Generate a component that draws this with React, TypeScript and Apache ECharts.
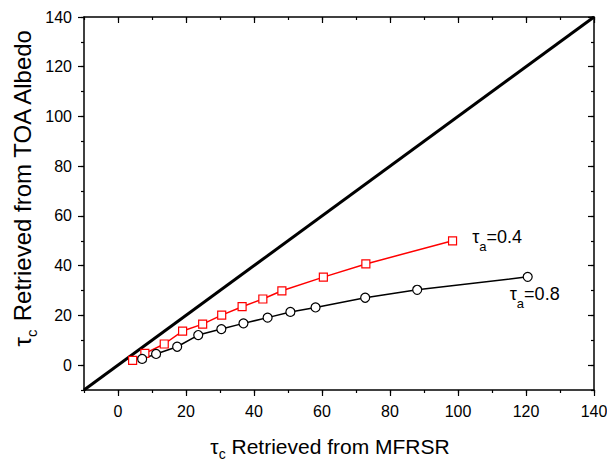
import React, { useEffect, useRef } from "react";
import * as echarts from "echarts";

// ---- data ----
const redX = [4.3, 7.9, 13.6, 19.0, 24.9, 30.5, 36.5, 42.6, 48.2, 60.4, 72.9, 98.4];
const redY = [1.9, 4.7, 8.5, 13.7, 16.5, 20.1, 23.5, 26.6, 29.9, 35.4, 40.7, 50.0];
const blackX = [7.1, 11.2, 17.4, 23.6, 30.4, 36.9, 44.0, 50.7, 58.1, 72.7, 88.0, 120.5];
const blackY = [2.5, 4.5, 7.4, 12.1, 14.5, 16.8, 19.1, 21.4, 23.2, 27.1, 30.3, 35.5];
const diagX = [-10, 140];
const diagY = [-10, 140];
const redTau = "0.4";
const blackTau = "0.8";
const xTitle = " Retrieved from MFRSR";
const yTitle = " Retrieved from TOA Albedo";

const FONT = "'Liberation Sans', Arial, Helvetica, sans-serif";

const xTitleRich = {
  t: { fontSize: 21, fontFamily: FONT, color: "#000", lineHeight: 30 },
  s: { fontSize: 14, fontFamily: FONT, color: "#000", lineHeight: 13, verticalAlign: "bottom" },
};
const yTitleRich = {
  t: { fontSize: 24, fontFamily: FONT, color: "#000", lineHeight: 34 },
  s: { fontSize: 15, fontFamily: FONT, color: "#000", lineHeight: 13, verticalAlign: "bottom" },
};
const labelRich = {
  t: { fontSize: 18, fontFamily: FONT, color: "#000", lineHeight: 32 },
  s: { fontSize: 13, fontFamily: FONT, color: "#000", lineHeight: 13, verticalAlign: "bottom" },
};

const pair = (xs: number[], ys: number[]) => xs.map((x, i) => [x, ys[i]]);

export default function App() {
  const ref = useRef<HTMLDivElement>(null);
  useEffect(() => {
    if (!ref.current) return;
    const chart = echarts.init(ref.current, undefined, { renderer: "svg" });

    const redData: any[] = pair(redX, redY);
    redData[redData.length - 1] = {
      value: redData[redData.length - 1],
      label: {
        show: true,
        position: "right",
        distance: 15,
        offset: [0, -4],
        formatter: `{t|τ}{s|a}{t|=${redTau}}`,
        rich: labelRich,
      },
    };
    const blackData: any[] = pair(blackX, blackY);
    blackData[blackData.length - 1] = {
      value: blackData[blackData.length - 1],
      label: {
        show: true,
        position: "inside",
        offset: [7, 17],
        formatter: `{t|τ}{s|a}{t|=${blackTau}}`,
        rich: labelRich,
      },
    };

    const minorX = {
      type: "value",
      min: -10,
      max: 140,
      interval: 10,
      splitLine: { show: false },
      axisLabel: { show: false },
    } as any;
    const majorScale = {
      type: "value",
      min: 0,
      max: 140,
      interval: 20,
      splitLine: { show: false },
      axisLine: { show: false, onZero: false },
    } as any;
    const line = { show: true, onZero: false, lineStyle: { color: "#000", width: 1.5 } };

    chart.setOption({
      animation: false,
      backgroundColor: "#fff",
      grid: [
        { left: 84, right: 13, top: 17, bottom: 72, containLabel: false, outerBoundsMode: "none" },
        { left: 118, right: 13, top: 17, bottom: 96.9, containLabel: false, outerBoundsMode: "none" },
      ],
      xAxis: [
        {
          ...minorX,
          gridIndex: 0,
          position: "bottom",
          axisLine: line,
          axisTick: { show: true, inside: false, length: 3, lineStyle: { color: "#000", width: 1.2 } },
          name: `{t|τ}{s|c}{t|${xTitle}}`,
          nameLocation: "middle",
          nameGap: 41,
          nameTextStyle: {
            fontFamily: FONT,
            fontSize: 21,
            color: "#000",
            padding: [0, 18, 0, 0],
            rich: xTitleRich,
          },
        },
        {
          ...minorX,
          gridIndex: 0,
          position: "top",
          axisLine: line,
          axisTick: { show: true, inside: true, length: 3, lineStyle: { color: "#000", width: 1.2 } },
        },
        {
          ...majorScale,
          gridIndex: 1,
          position: "bottom",
          offset: 24.9,
          axisTick: { show: true, inside: false, length: 6, lineStyle: { color: "#000", width: 1.2 } },
          axisLabel: { show: true, fontFamily: FONT, fontSize: 16, color: "#000", margin: 13 },
        },
        {
          ...majorScale,
          gridIndex: 1,
          position: "top",
          axisTick: { show: true, inside: true, length: 6, lineStyle: { color: "#000", width: 1.2 } },
          axisLabel: { show: false },
        },
      ],
      yAxis: [
        {
          ...minorX,
          gridIndex: 0,
          position: "left",
          axisLine: line,
          axisTick: { show: true, inside: false, length: 3, lineStyle: { color: "#000", width: 1.2 } },
          name: `{t|τ}{s|c}{t|${yTitle}}`,
          nameLocation: "middle",
          nameGap: 45,
          nameRotate: 90,
          nameTextStyle: {
            fontFamily: FONT,
            fontSize: 24,
            color: "#000",
            padding: [0, 0, 0, 32],
            rich: yTitleRich,
          },
        },
        {
          ...minorX,
          gridIndex: 0,
          position: "right",
          axisLine: line,
          axisTick: { show: true, inside: true, length: 3, lineStyle: { color: "#000", width: 1.2 } },
        },
        {
          ...majorScale,
          gridIndex: 1,
          position: "left",
          offset: 34,
          axisTick: { show: true, inside: false, length: 6, lineStyle: { color: "#000", width: 1.2 } },
          axisLabel: { show: true, fontFamily: FONT, fontSize: 16, color: "#000", margin: 12 },
        },
        {
          ...majorScale,
          gridIndex: 1,
          position: "right",
          axisTick: { show: true, inside: true, length: 6, lineStyle: { color: "#000", width: 1.2 } },
          axisLabel: { show: false },
        },
      ],
      series: [
        {
          type: "line",
          xAxisIndex: 0,
          yAxisIndex: 0,
          data: pair(diagX, diagY),
          showSymbol: false,
          symbol: "none",
          lineStyle: { color: "#000", width: 3 },
          z: 1,
        },
        {
          type: "line",
          xAxisIndex: 0,
          yAxisIndex: 0,
          data: redData,
          symbol: "rect",
          symbolSize: 8,
          itemStyle: { color: "#fff", borderColor: "#ff0000", borderWidth: 1.2 },
          lineStyle: { color: "#ff0000", width: 1.5 },
          z: 3,
        },
        {
          type: "line",
          xAxisIndex: 0,
          yAxisIndex: 0,
          data: blackData,
          symbol: "circle",
          symbolSize: 9,
          itemStyle: { color: "#fff", borderColor: "#000", borderWidth: 1.2 },
          lineStyle: { color: "#000", width: 1.5 },
          z: 3,
        },
      ],
    });
    return () => chart.dispose();
  }, []);
  return <div ref={ref} style={{ width: 607, height: 462, position: "absolute", left: 0, top: 0 }} />;
}
